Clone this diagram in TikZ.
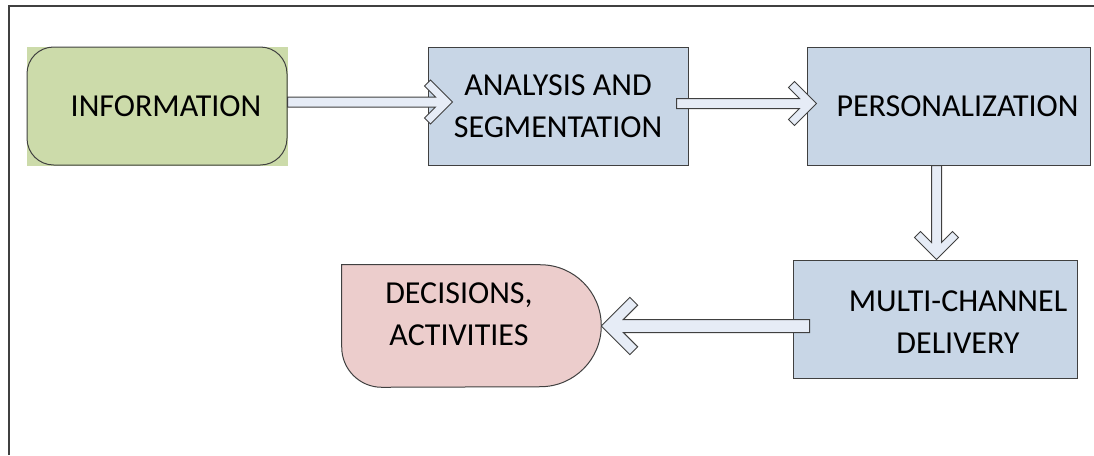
\documentclass[tikz,border=0pt]{standalone}
\usepackage{fontspec}
\setmainfont{Carlito}
\usepackage{tikz}
\usetikzlibrary{calc,backgrounds}

\definecolor{infogreen}{RGB}{204,219,170}
\definecolor{boxblue}{RGB}{200,214,230}
\definecolor{decpink}{RGB}{236,205,204}
\definecolor{arrowfill}{RGB}{230,236,246}
\definecolor{linegray}{RGB}{64,64,64}

% block arrow with an open chevron head: [scale]{start}{tip}
\newcommand{\blockarrow}[3][1]{%
  \pgfmathsetlengthmacro{\arrW}{3.75pt*#1}%
  \pgfmathsetlengthmacro{\arrA}{16.5pt*#1}%
  \pgfmathsetlengthmacro{\arrJ}{12.75pt*#1}%
  \pgfmathsetlengthmacro{\arrC}{21pt*#1}%
  \pgfmathsetlengthmacro{\arrD}{12pt*#1}%
  \draw[arrowbody] ($(#2)!\arrW!-90:(#3)$)
    -- ($(#3)!\arrJ!(#2)!\arrW!90:(#2)$)
    -- ($(#3)!\arrC!(#2)!\arrD!90:(#2)$)
    -- ($(#3)!\arrA!(#2)!\arrA!90:(#2)$)
    -- (#3)
    -- ($(#3)!\arrA!(#2)!\arrA!-90:(#2)$)
    -- ($(#3)!\arrC!(#2)!\arrD!-90:(#2)$)
    -- ($(#3)!\arrJ!(#2)!\arrW!-90:(#2)$)
    -- ($(#2)!\arrW!90:(#3)$) -- cycle;}

\begin{document}
\begin{tikzpicture}[x=0.75pt,y=-0.75pt,
    every label/.style={font=\fontsize{24}{31.5}\selectfont,align=center,text=black},
    bluebox/.style={draw=linegray,line width=0.75pt,fill=boxblue,minimum height=88.5pt},
    infobox/.style={draw=linegray,line width=0.75pt,rounded corners=20pt,minimum height=88.5pt},
    decbox/.style={minimum width=194.25pt,minimum height=91.5pt},
    arrowbody/.style={draw=linegray,line width=0.75pt,fill=arrowfill,line join=miter}]
  \useasboundingbox (0,0) rectangle (1094,455);
  \draw[linegray,line width=1pt] (9,455) -- (9,6) -- (1094,6);

  \node[infobox,minimum width=195pt,label={[xshift=6.75pt]center:INFORMATION}] (info) at (157,106) {};
  \node[bluebox,minimum width=195pt,label={center:{ANALYSIS AND\\SEGMENTATION}}] (ana) at (558,106) {};
  \node[bluebox,minimum width=212.25pt,label={[xshift=6.75pt]center:PERSONALIZATION}] (pers) at (948.5,106) {};
  \node[bluebox,minimum width=213pt,label={[xshift=17.25pt,yshift=-2.6pt]center:{MULTI-CHANNEL\\DELIVERY}}] (multi) at (935,319) {};
  \node[decbox,label={[xshift=-9.4pt,yshift=9pt]center:{DECISIONS,\\ACTIVITIES}}] (dec) at (471.5,326) {};

  \begin{scope}[on background layer]
    \fill[infogreen] (info.north west) rectangle (info.south east);
    \draw[draw=linegray,line width=0.75pt,fill=decpink] (dec.north west) -- ($(dec.north east)+(-61,0)$)
      arc[start angle=-90,end angle=90,radius=61] -- ($(dec.south west)+(40,0)$)
      arc[start angle=90,end angle=180,radius=40] -- cycle;
  \end{scope}

  \coordinate (t1) at ($(ana.west)+(25,-4)$);
  \coordinate (s2) at ($(ana.east)+(-12,-2.5)$);
  \coordinate (t2) at ($(pers.west)+(10,-2.5)$);
  \coordinate (s3) at ($(pers.south)+(-12,0)$);
  \coordinate (s4) at ($(multi.west)+(17,7)$);

  \blockarrow{info.east |- t1}{t1}
  \blockarrow{s2}{t2}
  \blockarrow{s3}{s3 |- multi.north}
  \blockarrow[1.3]{s4}{dec.east}
\end{tikzpicture}
\end{document}
